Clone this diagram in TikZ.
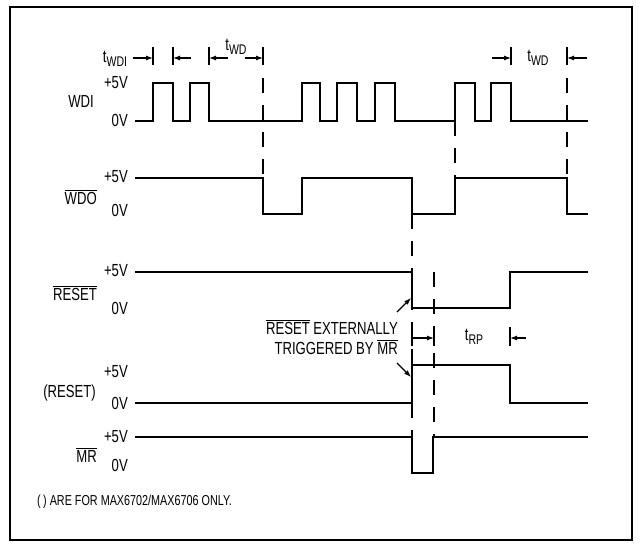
\documentclass[tikz,border=0pt]{standalone}
\usepackage{fontspec}
\setmainfont{Liberation Sans}[FakeStretch=0.75]
\usetikzlibrary{arrows.meta}
\newcommand{\Wave}{2.8pt}
\newcommand{\Thin}{1.1pt}
\newcommand{\ovl}[1]{$\overline{\mbox{#1}}$}
\newcommand{\tsub}[2]{#1\raisebox{-0.4ex}{\fontsize{14}{14}\selectfont #2}}
\definecolor{ink}{HTML}{000000}

\begin{document}
\begin{tikzpicture}[x=1pt,y=-1pt, line join=miter,
  wave/.style={ink,line width=\Wave},
  guide/.style={ink,line width=\Thin,dash pattern=on 15pt off 12pt},
  tick/.style={ink,line width=\Thin},
  dim/.style={ink,line width=\Thin,-{Latex[length=7pt,width=5pt]}},
  lbl/.style={font=\fontsize{17.5}{19}\selectfont,inner sep=0pt,anchor=east},
  note/.style={font=\fontsize{17.5}{20}\selectfont,inner sep=0pt}]

  \useasboundingbox (0,0) rectangle (643,550);
  \draw[ink,line width=1.6pt] (10,7) rectangle (632,540);

  % ---- signal names and levels --------------------------------------------
  \node[lbl] (wdi)  at (94,101) {WDI};
  \node[lbl] (wdo)  at (97,197) {\ovl{WDO}};
  \node[lbl] (rstn) at (97,293) {\ovl{RESET}};
  \node[lbl] (rst)  at (96,393) {(RESET)};
  \node[lbl] (mr)   at (97,455) {\ovl{MR}};
  \foreach \name/\hi/\lo in {a/83/120, b/177/210, c/271/308, d/372/403, e/437/465} {
    \node[lbl] (hi\name) at (128,\hi) {+5V};
    \node[lbl] (lo\name) at (128,\lo) {0V};
  }

  % ---- waveforms -----------------------------------------------------------
  \draw[wave] (135,121) -| (153,83) -| (173,121) -| (190,83) -| (209,121)
    -| (302,83) -| (320,121) -| (337,83) -| (357,121) -| (375,83) -| (395,121)
    -| (455,83) -| (475,121) -| (491,83) -| (511,121) -- (588,121);
  \draw[wave] (135,178) -| (263,214) -| (302,178) -| (412,214) -| (455,178)
    -| (567,214) -- (588,214);
  \draw[wave] (135,272) -| (412,308) -| (510,272) -- (588,272);
  \draw[wave] (135,403) -| (412,365) -| (510,403) -- (588,403);
  \draw[wave] (135,437) -| (412,473) -| (433,437) -- (588,437);

  % ---- guide lines ---------------------------------------------------------
  \draw[guide] (263,78) -- (263,178);
  \draw[guide] (567,78) -- (567,178);
  \draw[guide] (455,121) -- (455,178);
  \draw[guide] (412,214) -- (412,437);
  \draw[guide] (434,272) -- (434,437);

  % ---- timing marks --------------------------------------------------------
  \foreach \x in {153,173,209,263,511,567} { \draw[tick] (\x,47) -- (\x,65); }
  \foreach \x in {412,434,510} { \draw[tick] (\x,327) -- (\x,346); }

  \node[inner sep=0pt,font=\fontsize{17.5}{19}\selectfont] (twdi) at (115,59) {\tsub{t}{WDI}};
  \node[inner sep=0pt,font=\fontsize{17.5}{19}\selectfont] (twda) at (236,47) {\tsub{t}{WD}};
  \node[inner sep=0pt,font=\fontsize{17.5}{19}\selectfont] (twdb) at (538,58) {\tsub{t}{WD}};
  \node[inner sep=0pt,font=\fontsize{17.5}{19}\selectfont] (trp)  at (474,337) {\tsub{t}{RP}};

  \coordinate (m1) at (153,58);  \coordinate (m2) at (173,58);
  \coordinate (m3) at (209,58);  \coordinate (m4) at (263,58);
  \coordinate (m5) at (511,58);  \coordinate (m6) at (567,58);
  \coordinate (m7) at (434,338); \coordinate (m8) at (510,338);
  \draw[dim] (133,58) -- (m1);
  \draw[dim] (191,58) -- (m2);
  \draw[dim] (228,58) -- (m3);
  \draw[dim] (245,58) -- (m4);
  \draw[dim] (492,58) -- (m5);
  \draw[dim] (587,58) -- (m6);
  \draw[dim] (412,338) -- (m7);
  \draw[dim] (526,338) -- (m8);

  % ---- external trigger note -----------------------------------------------
  \node[note,anchor=east,align=right] (ext) at (398,337)
    {\ovl{RESET} EXTERNALLY\\TRIGGERED BY \ovl{MR}};
  \coordinate (fall) at (411,298);
  \coordinate (rise) at (411,377);
  \draw[dim] (397,312) -- (fall);
  \draw[dim] (397,363) -- (rise);

  \node[note,anchor=west,font=\fontsize{14.4}{16}\selectfont] (foot) at (37,502)
    {(\,) ARE FOR MAX6702/MAX6706 ONLY.};

\end{tikzpicture}
\end{document}
